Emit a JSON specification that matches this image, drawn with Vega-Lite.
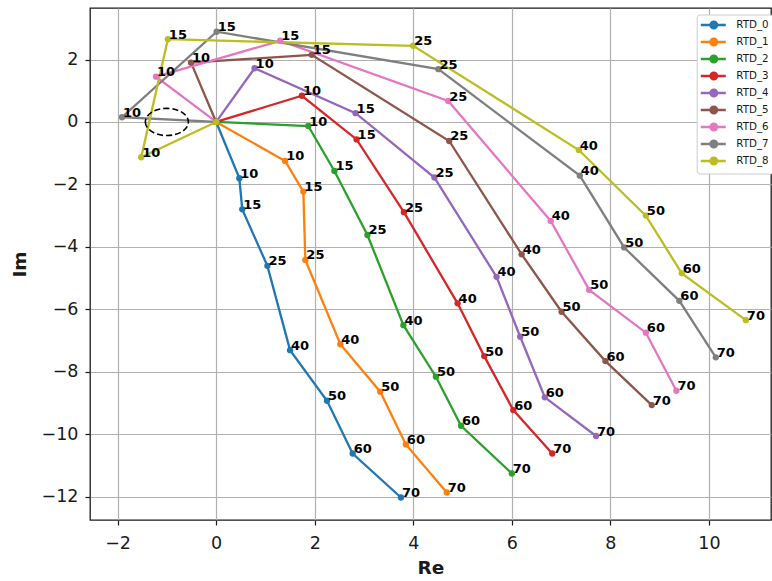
{
  "$schema": "https://vega.github.io/schema/vega-lite/v6.json",
  "width": 681,
  "height": 512,
  "autosize": {"type": "none"},
  "padding": {"left": 90, "top": 8, "right": 1, "bottom": 61},
  "background": "white",
  "config": {
    "view": {"stroke": "#1a1a1a", "strokeWidth": 1.3},
    "font": "DejaVu Sans",
    "axis": {
      "grid": true,
      "gridColor": "#b0b0b0",
      "gridWidth": 1.2,
      "domain": false,
      "tickColor": "#1a1a1a",
      "tickSize": 5,
      "tickWidth": 1.2,
      "labelFont": "DejaVu Sans",
      "labelFontSize": 17.5,
      "labelColor": "#1a1a1a",
      "titleFont": "DejaVu Sans",
      "titleFontSize": 18.5,
      "titleFontWeight": "bold",
      "titleColor": "#1a1a1a"
    }
  },
  "datasets": {
    "curves": [
      {"s": "RTD_0", "i": 0, "re": 0, "im": 0, "f": null},
      {"s": "RTD_0", "i": 1, "re": 0.47, "im": -1.80, "f": 10},
      {"s": "RTD_0", "i": 2, "re": 0.53, "im": -2.80, "f": 15},
      {"s": "RTD_0", "i": 3, "re": 1.04, "im": -4.61, "f": 25},
      {"s": "RTD_0", "i": 4, "re": 1.50, "im": -7.31, "f": 40},
      {"s": "RTD_0", "i": 5, "re": 2.25, "im": -8.93, "f": 50},
      {"s": "RTD_0", "i": 6, "re": 2.77, "im": -10.62, "f": 60},
      {"s": "RTD_0", "i": 7, "re": 3.75, "im": -12.03, "f": 70},
      {"s": "RTD_1", "i": 0, "re": 0, "im": 0, "f": null},
      {"s": "RTD_1", "i": 1, "re": 1.40, "im": -1.25, "f": 10},
      {"s": "RTD_1", "i": 2, "re": 1.77, "im": -2.23, "f": 15},
      {"s": "RTD_1", "i": 3, "re": 1.81, "im": -4.42, "f": 25},
      {"s": "RTD_1", "i": 4, "re": 2.52, "im": -7.12, "f": 40},
      {"s": "RTD_1", "i": 5, "re": 3.33, "im": -8.64, "f": 50},
      {"s": "RTD_1", "i": 6, "re": 3.85, "im": -10.33, "f": 60},
      {"s": "RTD_1", "i": 7, "re": 4.68, "im": -11.87, "f": 70},
      {"s": "RTD_2", "i": 0, "re": 0, "im": 0, "f": null},
      {"s": "RTD_2", "i": 1, "re": 1.87, "im": -0.13, "f": 10},
      {"s": "RTD_2", "i": 2, "re": 2.40, "im": -1.57, "f": 15},
      {"s": "RTD_2", "i": 3, "re": 3.07, "im": -3.62, "f": 25},
      {"s": "RTD_2", "i": 4, "re": 3.80, "im": -6.51, "f": 40},
      {"s": "RTD_2", "i": 5, "re": 4.46, "im": -8.16, "f": 50},
      {"s": "RTD_2", "i": 6, "re": 4.97, "im": -9.73, "f": 60},
      {"s": "RTD_2", "i": 7, "re": 6.00, "im": -11.26, "f": 70},
      {"s": "RTD_3", "i": 0, "re": 0, "im": 0, "f": null},
      {"s": "RTD_3", "i": 1, "re": 1.74, "im": 0.84, "f": 10},
      {"s": "RTD_3", "i": 2, "re": 2.85, "im": -0.56, "f": 15},
      {"s": "RTD_3", "i": 3, "re": 3.81, "im": -2.89, "f": 25},
      {"s": "RTD_3", "i": 4, "re": 4.90, "im": -5.81, "f": 40},
      {"s": "RTD_3", "i": 5, "re": 5.44, "im": -7.50, "f": 50},
      {"s": "RTD_3", "i": 6, "re": 6.03, "im": -9.23, "f": 60},
      {"s": "RTD_3", "i": 7, "re": 6.82, "im": -10.62, "f": 70},
      {"s": "RTD_4", "i": 0, "re": 0, "im": 0, "f": null},
      {"s": "RTD_4", "i": 1, "re": 0.78, "im": 1.72, "f": 10},
      {"s": "RTD_4", "i": 2, "re": 2.83, "im": 0.28, "f": 15},
      {"s": "RTD_4", "i": 3, "re": 4.43, "im": -1.78, "f": 25},
      {"s": "RTD_4", "i": 4, "re": 5.69, "im": -4.96, "f": 40},
      {"s": "RTD_4", "i": 5, "re": 6.17, "im": -6.88, "f": 50},
      {"s": "RTD_4", "i": 6, "re": 6.67, "im": -8.82, "f": 60},
      {"s": "RTD_4", "i": 7, "re": 7.71, "im": -10.06, "f": 70},
      {"s": "RTD_5", "i": 0, "re": 0, "im": 0, "f": null},
      {"s": "RTD_5", "i": 1, "re": -0.51, "im": 1.90, "f": 10},
      {"s": "RTD_5", "i": 2, "re": 1.94, "im": 2.15, "f": 15},
      {"s": "RTD_5", "i": 3, "re": 4.73, "im": -0.61, "f": 25},
      {"s": "RTD_5", "i": 4, "re": 6.20, "im": -4.24, "f": 40},
      {"s": "RTD_5", "i": 5, "re": 7.01, "im": -6.08, "f": 50},
      {"s": "RTD_5", "i": 6, "re": 7.90, "im": -7.66, "f": 60},
      {"s": "RTD_5", "i": 7, "re": 8.84, "im": -9.07, "f": 70},
      {"s": "RTD_6", "i": 0, "re": 0, "im": 0, "f": null},
      {"s": "RTD_6", "i": 1, "re": -1.22, "im": 1.45, "f": 10},
      {"s": "RTD_6", "i": 2, "re": 1.30, "im": 2.60, "f": 15},
      {"s": "RTD_6", "i": 3, "re": 4.71, "im": 0.67, "f": 25},
      {"s": "RTD_6", "i": 4, "re": 6.79, "im": -3.17, "f": 40},
      {"s": "RTD_6", "i": 5, "re": 7.57, "im": -5.38, "f": 50},
      {"s": "RTD_6", "i": 6, "re": 8.72, "im": -6.75, "f": 60},
      {"s": "RTD_6", "i": 7, "re": 9.34, "im": -8.61, "f": 70},
      {"s": "RTD_7", "i": 0, "re": 0, "im": 0, "f": null},
      {"s": "RTD_7", "i": 1, "re": -1.91, "im": 0.15, "f": 10},
      {"s": "RTD_7", "i": 2, "re": 0.01, "im": 2.89, "f": 15},
      {"s": "RTD_7", "i": 3, "re": 4.51, "im": 1.69, "f": 25},
      {"s": "RTD_7", "i": 4, "re": 7.38, "im": -1.72, "f": 40},
      {"s": "RTD_7", "i": 5, "re": 8.28, "im": -4.02, "f": 50},
      {"s": "RTD_7", "i": 6, "re": 9.40, "im": -5.73, "f": 60},
      {"s": "RTD_7", "i": 7, "re": 10.14, "im": -7.54, "f": 70},
      {"s": "RTD_8", "i": 0, "re": 0, "im": 0, "f": null},
      {"s": "RTD_8", "i": 1, "re": -1.52, "im": -1.13, "f": 10},
      {"s": "RTD_8", "i": 2, "re": -0.98, "im": 2.65, "f": 15},
      {"s": "RTD_8", "i": 3, "re": 4.00, "im": 2.44, "f": 25},
      {"s": "RTD_8", "i": 4, "re": 7.36, "im": -0.90, "f": 40},
      {"s": "RTD_8", "i": 5, "re": 8.72, "im": -3.00, "f": 50},
      {"s": "RTD_8", "i": 6, "re": 9.45, "im": -4.85, "f": 60},
      {"s": "RTD_8", "i": 7, "re": 10.75, "im": -6.35, "f": 70}
    ],
    "critical": [
      {"re": -1, "im": 0}
    ]
  },
  "layer": [
    {
      "data": {"name": "curves"},
      "mark": {"type": "line", "strokeWidth": 2.3, "clip": true},
      "encoding": {
        "x": {
          "field": "re", "type": "quantitative", "title": "Re",
          "scale": {"domain": [-2.56, 11.26], "nice": false, "zero": false},
          "axis": {"values": [-2, 0, 2, 4, 6, 8, 10], "labelPadding": 9, "titlePadding": 7}
        },
        "y": {
          "field": "im", "type": "quantitative", "title": "Im",
          "scale": {"domain": [-12.75, 3.65], "nice": false, "zero": false},
          "axis": {"values": [-12, -10, -8, -6, -4, -2, 0, 2], "labelPadding": 7, "titlePadding": 12}
        },
        "order": {"field": "i", "type": "quantitative"},
        "color": {
          "field": "s", "type": "nominal",
          "scale": {
            "domain": ["RTD_0", "RTD_1", "RTD_2", "RTD_3", "RTD_4", "RTD_5", "RTD_6", "RTD_7", "RTD_8"],
            "range": ["#1f77b4", "#ff7f0e", "#2ca02c", "#d62728", "#9467bd", "#8c564b", "#e377c2", "#7f7f7f", "#bcbd22"]
          },
          "legend": {
            "title": null,
            "orient": "none",
            "legendX": 606.7,
            "legendY": 6.5,
            "fillColor": "white",
            "strokeColor": "#cccccc",
            "cornerRadius": 3,
            "padding": 4,
            "rowPadding": 0,
            "labelFont": "DejaVu Sans",
            "labelFontSize": 10.3,
            "labelColor": "#1a1a1a",
            "labelOffset": 22.6,
            "symbolType": "M -1.28 0 L 3.72 0 M 0.66 0 A 0.66 0.66 0 1 1 1.98 0 A 0.66 0.66 0 1 1 0.66 0 Z",
            "symbolSize": 100,
            "symbolStrokeWidth": 2.3,
            "symbolOpacity": 1,
            "encode": {
              "symbols": {
                "update": {
                  "fill": {"scale": "color", "field": "value"},
                  "stroke": {"scale": "color", "field": "value"},
                  "fillOpacity": {"value": 1},
                  "opacity": {"value": 1}
                }
              }
            }
          }
        }
      }
    },
    {
      "data": {"name": "curves"},
      "mark": {"type": "point", "filled": true, "size": 40, "opacity": 1, "clip": true},
      "encoding": {
        "x": {"field": "re", "type": "quantitative"},
        "y": {"field": "im", "type": "quantitative"},
        "color": {"field": "s", "type": "nominal"}
      }
    },
    {
      "data": {"name": "curves"},
      "transform": [{"filter": "isValid(datum.f)"}],
      "mark": {
        "type": "text", "align": "left", "baseline": "alphabetic",
        "dx": 1, "dy": -0.5, "font": "DejaVu Sans", "fontWeight": "bold",
        "fontSize": 13, "color": "#000000"
      },
      "encoding": {
        "x": {"field": "re", "type": "quantitative"},
        "y": {"field": "im", "type": "quantitative"},
        "text": {"field": "f", "type": "quantitative"}
      }
    },
    {
      "data": {"name": "critical"},
      "mark": {
        "type": "point",
        "shape": "M -1 0 A 1 0.633 0 1 0 1 0 A 1 0.633 0 1 0 -1 0 Z",
        "size": 1849,
        "filled": false,
        "stroke": "#000000",
        "strokeWidth": 1.6,
        "strokeDash": [6, 3],
        "opacity": 1
      },
      "encoding": {
        "x": {"field": "re", "type": "quantitative"},
        "y": {"field": "im", "type": "quantitative"}
      }
    }
  ]
}
